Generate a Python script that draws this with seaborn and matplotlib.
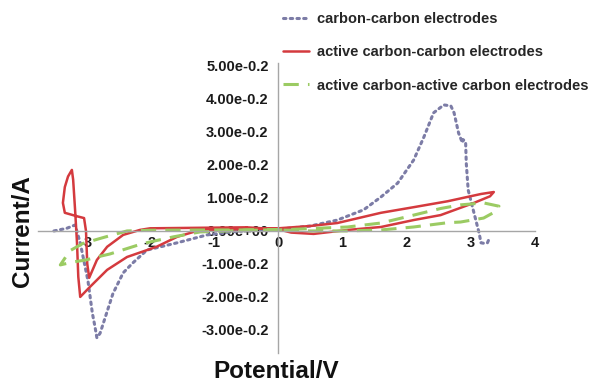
import matplotlib
matplotlib.use("Agg")
import matplotlib.pyplot as plt
import seaborn as sns
import pandas as pd

# ---------------- data (y in units of the tick labels "N.00e-0.2") ----------------
cc_x = [-3.50, -3.30, -3.17, -3.09, -2.97, -2.90, -2.86, -2.83, -2.78, -2.73, -2.58, -2.42,
        -2.27, -2.05, -1.58, -1.11, -0.60, 0.00, 0.50, 0.92, 1.33, 1.60, 1.86, 2.11, 2.27,
        2.42, 2.58, 2.69, 2.74, 2.81, 2.87, 2.88, 2.92, 2.93, 2.96, 3.05, 3.13, 3.16, 3.22,
        3.26, 3.28]
cc_y = [0.00, 0.08, 0.18, -0.36, -1.50, -2.50, -2.90, -3.24, -3.10, -2.80, -1.90, -1.27,
        -0.97, -0.58, -0.36, -0.12, 0.00, 0.05, 0.15, 0.33, 0.64, 1.03, 1.45, 2.15, 2.85,
        3.58, 3.82, 3.79, 3.58, 2.97, 2.67, 2.77, 2.70, 2.06, 1.24, 0.55, -0.06, -0.36, -0.38,
        -0.36, -0.27]

acc_x = [-0.50, -1.00, -1.50, -2.00, -2.16, -2.42, -2.67, -2.83, -2.95, -2.98, -3.00, -3.03,
         -3.15, -3.33, -3.36, -3.33, -3.28, -3.22, -3.20, -3.17, -3.14, -3.12, -3.09, -2.94,
         -2.67, -2.36, -1.90, -1.58, -1.22, -0.60, 0.00, 0.50, 0.92, 1.60, 2.11, 2.64, 3.16,
         3.36, 3.30, 3.05, 2.53, 2.11, 1.60, 1.08, 0.55, 0.20, 0.00, -0.50]
acc_y = [0.11, 0.10, 0.09, 0.08, 0.03, -0.12, -0.48, -0.88, -1.42, -1.00, 0.00, 0.39,
         0.45, 0.55, 0.85, 1.33, 1.65, 1.85, 1.55, 0.64, -0.36, -1.39, -2.00, -1.70,
         -1.18, -0.79, -0.48, -0.18, 0.03, 0.05, 0.08, 0.15, 0.24, 0.55, 0.72, 0.90, 1.12,
         1.18, 1.05, 0.85, 0.48, 0.33, 0.12, 0.03, -0.09, -0.05, 0.05, 0.11]

aa_x = [0.00, -1.00, -2.00, -2.36, -2.73, -3.05, -3.25, -3.40, -3.20, -3.00, -2.83, -2.63,
        -2.11, -1.64, -1.22, -0.50, 0.00, 1.08, 1.60, 2.11, 2.53, 2.84, 3.20, 3.44, 3.35,
        3.20, 2.84, 2.64, 2.11, 1.60, 1.08, 0.50, 0.00]
aa_y = [0.03, 0.03, 0.02, 0.00, -0.20, -0.38, -0.60, -1.03, -0.94, -0.88, -0.79, -0.70,
        -0.38, -0.18, -0.03, 0.02, 0.03, 0.12, 0.24, 0.48, 0.68, 0.79, 0.85, 0.75, 0.55,
        0.39, 0.27, 0.25, 0.12, 0.03, 0.00, 0.00, 0.03]

series_names = ["carbon-carbon electrodes",
                "active carbon-carbon electrodes",
                "active carbon-active carbon electrodes"]

x_ticks = [-3, -2, -1, 0, 1, 2, 3, 4]
y_ticks = [-3, -2, -1, 0, 1, 2, 3, 4, 5]
y_tick_labels = ["-3.00e-0.2", "-2.00e-0.2", "-1.00e-0.2", "0.00e+00", "1.00e-0.2",
                 "2.00e-0.2", "3.00e-0.2", "4.00e-0.2", "5.00e-0.2"]

# ---------------- plot ----------------
sns.set_theme(style="white")
plt.rcParams["font.family"] = ["Liberation Sans", "DejaVu Sans"]
plt.rcParams["font.weight"] = "bold"

fig = plt.figure(figsize=(5.92, 3.82), dpi=100)
ax = fig.add_axes([0.064, 0.0759, 0.8395, 0.76])

df_cc = pd.DataFrame({"x": cc_x, "y": cc_y})
df_acc = pd.DataFrame({"x": acc_x, "y": acc_y})
df_aa = pd.DataFrame({"x": aa_x, "y": aa_y})

sns.lineplot(data=df_cc, x="x", y="y", sort=False, estimator=None, ax=ax,
             color="#7c7ca6", linewidth=2.2, linestyle=(0, (0.8, 1.4)),
             dash_capstyle="round", label=series_names[0])
sns.lineplot(data=df_acc, x="x", y="y", sort=False, estimator=None, ax=ax,
             color="#d43a3e", linewidth=1.8, label=series_names[1])
sns.lineplot(data=df_aa, x="x", y="y", sort=False, estimator=None, ax=ax,
             color="#9bcb63", linewidth=2.2, linestyle=(0, (5, 3)),
             label=series_names[2])

ax.set_xlim(-3.75, 4.0)
ax.set_ylim(-3.7, 5.1)

for s in ["top", "right"]:
    ax.spines[s].set_visible(False)
ax.spines["left"].set_position(("data", 0))
ax.spines["bottom"].set_position(("data", 0))
for s in ["left", "bottom"]:
    ax.spines[s].set_color("#a6a6a6")
    ax.spines[s].set_linewidth(1.0)

ax.set_xticks(x_ticks)
ax.set_xticklabels([str(t) for t in x_ticks])
ax.set_yticks(y_ticks)
ax.set_yticklabels(y_tick_labels)
ax.tick_params(axis="both", length=0, labelsize=10.5, colors="#1a1a1a")
ax.tick_params(axis="y", pad=7)
ax.tick_params(axis="x", pad=4)
for lab in ax.get_xticklabels() + ax.get_yticklabels():
    lab.set_fontweight("bold")
ax.set_xlabel("")
ax.set_ylabel("")

fig.text(23 / 592, 1 - 231 / 382, "Current/A", rotation=90, ha="center", va="center",
         fontsize=17.5, fontweight="bold", color="#111111")
fig.text(276 / 592, 1 - 372 / 382, "Potential/V", ha="center", va="center",
         fontsize=17.5, fontweight="bold", color="#111111")

handles, labels = ax.get_legend_handles_labels()
ax.get_legend().remove()
leg = fig.legend(handles, labels, loc="upper left", bbox_to_anchor=(283 / 592, 1 - 12 / 382),
                 frameon=False, borderpad=0, borderaxespad=0, handlelength=1.75,
                 handletextpad=0.55, labelspacing=1.32, prop={"size": 10.5, "weight": "bold"})

fig.savefig("out.png", dpi=100)
